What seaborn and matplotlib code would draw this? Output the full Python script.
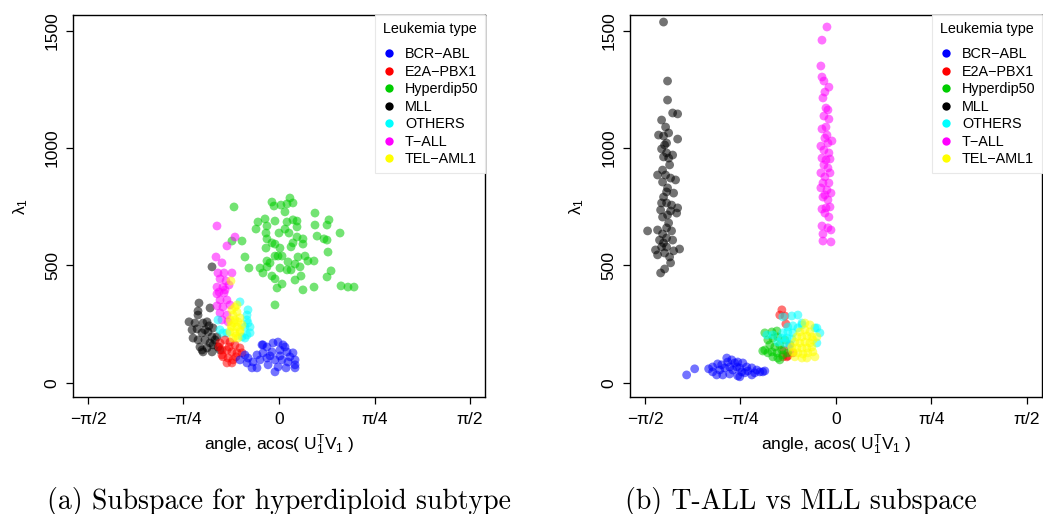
import numpy as np
import pandas as pd
import seaborn as sns
import matplotlib
matplotlib.use("Agg")
import matplotlib.pyplot as plt
from matplotlib.lines import Line2D

types = ["BCR-ABL", "E2A-PBX1", "Hyperdip50", "MLL", "OTHERS", "T-ALL", "TEL-AML1"]
type_labels = ["BCR\u2212ABL", "E2A\u2212PBX1", "Hyperdip50", "MLL", "OTHERS", "T\u2212ALL", "TEL\u2212AML1"]
type_colors = ["#0000FF", "#FF0000", "#00CD00", "#000000", "#00FFFF", "#FF00FF", "#FFFF00"]

angle_ticks = [-np.pi / 2, -np.pi / 4, 0, np.pi / 4, np.pi / 2]
angle_tick_labels = ["\u2212\u03c0/2", "\u2212\u03c0/4", "0", "\u03c0/4", "\u03c0/2"]
lambda_ticks = [0, 500, 1000, 1500]

# ---- (a) hyperdiploid subspace: angle (rad), lambda_1 ----
a_mll_x = [-0.551, -0.658, -0.666, -0.740, -0.691, -0.715, -0.674, -0.625, -0.592, -0.633, -0.584, -0.543,
           -0.707, -0.666, -0.609, -0.551, -0.650, -0.592, -0.543, -0.502, -0.625, -0.551, -0.485, -0.510,
           -0.567, -0.666, -0.567, -0.633, -0.609, -0.526, -0.576]
a_mll_y = [494, 340, 289, 260, 255, 226, 230, 255, 260, 213, 217, 234,
           191, 183, 183, 196, 153, 149, 162, 153, 132, 132, 140, 196,
           170, 306, 319, 140, 226, 183, 243]
a_tall_x = [-0.510, -0.362, -0.428, -0.518, -0.469, -0.387, -0.502, -0.452, -0.485, -0.436, -0.510, -0.461,
            -0.411, -0.510, -0.452, -0.485, -0.428, -0.510, -0.461, -0.403, -0.485, -0.428, -0.469, -0.493,
            -0.419, -0.444]
a_tall_y = [668, 621, 583, 536, 511, 468, 468, 468, 443, 434, 408, 408,
            417, 379, 383, 353, 353, 328, 323, 332, 298, 289, 268, 387,
            260, 396]
a_oth_x = [-0.321, -0.255, -0.263, -0.238, -0.263, -0.280, -0.304, -0.461, -0.485, -0.428, -0.255, -0.280,
           -0.502, -0.263, -0.238]
a_oth_y = [345, 311, 268, 238, 204, 238, 196, 213, 226, 213, 255, 191,
           268, 289, 213]
a_hyp_x = [-0.370, -0.058, 0.016, 0.066, 0.090, 0.115, -0.041, 0.049, 0.296, -0.173, -0.115, -0.033,
           0.066, 0.115, 0.148, 0.296, 0.395, 0.411, -0.189, -0.099, 0.049, 0.148, -0.107, 0.000,
           0.082, 0.313, 0.502, -0.099, 0.148, 0.197, 0.370, 0.395, -0.387, -0.304, -0.058, -0.033,
           0.115, 0.197, -0.107, 0.008, 0.099, 0.403, -0.280, -0.033, -0.008, 0.025, 0.156, 0.214,
           0.238, 0.288, -0.099, -0.074, 0.074, 0.132, 0.173, -0.247, -0.156, -0.099, 0.008, 0.066,
           0.099, -0.132, 0.428, -0.058, 0.181, -0.033, 0.395, 0.132, 0.025, -0.016, 0.197, 0.288,
           0.510, 0.567, 0.617, -0.033]
a_hyp_y = [749, 770, 757, 762, 787, 766, 753, 728, 723, 685, 698, 689,
           685, 694, 689, 672, 672, 694, 655, 668, 655, 664, 638, 638,
           638, 625, 638, 613, 621, 613, 613, 608, 604, 604, 596, 591,
           596, 591, 574, 574, 579, 557, 536, 540, 540, 540, 536, 540,
           519, 519, 519, 511, 515, 506, 494, 489, 489, 494, 489, 481,
           481, 468, 477, 455, 455, 443, 451, 438, 421, 404, 396, 408,
           413, 408, 408, 332]
a_e2a_x = [-0.485, -0.444, -0.403, -0.362, -0.321, -0.469, -0.428, -0.387, -0.345, -0.461, -0.419, -0.378,
           -0.428, -0.387, -0.469, -0.304, -0.493, -0.411, -0.354]
a_e2a_y = [170, 183, 174, 162, 149, 140, 140, 132, 128, 111, 106, 98,
           85, 85, 119, 128, 153, 153, 111]
a_bcr_x = [-0.140, -0.099, -0.049, -0.008, 0.033, 0.008, 0.066, 0.115, -0.058, -0.132, -0.181, -0.255,
           -0.214, -0.156, -0.099, -0.033, 0.025, 0.074, 0.132, -0.263, -0.181, -0.090, -0.008, 0.058,
           0.132, -0.222, -0.321, 0.049, 0.132, -0.033, -0.280, -0.132, -0.074, 0.008, 0.090]
a_bcr_y = [162, 153, 170, 174, 162, 140, 132, 128, 132, 128, 119, 106,
           89, 98, 106, 98, 98, 89, 98, 85, 64, 77, 68, 64,
           64, 64, 98, 153, 77, 47, 119, 162, 115, 115, 111]
a_tel_x = [-0.395, -0.387, -0.345, -0.403, -0.362, -0.321, -0.387, -0.345, -0.304, -0.403, -0.362, -0.321,
           -0.378, -0.337, -0.362, -0.345, -0.378, -0.321, -0.370, -0.337, -0.395, -0.354]
a_tel_y = [434, 311, 302, 268, 268, 277, 238, 238, 247, 217, 213, 217,
           191, 191, 323, 332, 289, 226, 255, 260, 243, 200]

# ---- (b) T-ALL vs MLL subspace ----
b_mll_x = [-1.418, -1.385, -1.385, -1.343, -1.302, -1.434, -1.401, -1.376, -1.459, -1.418, -1.302, -1.434,
           -1.393, -1.393, -1.418, -1.343, -1.376, -1.426, -1.467, -1.401, -1.360, -1.319, -1.426, -1.393,
           -1.335, -1.418, -1.434, -1.393, -1.352, -1.302, -1.442, -1.360, -1.310, -1.426, -1.376, -1.393,
           -1.549, -1.467, -1.352, -1.426, -1.451, -1.393, -1.343, -1.484, -1.434, -1.393, -1.335, -1.286,
           -1.467, -1.409, -1.368, -1.360, -1.409, -1.442, -1.385, -1.368, -1.409, -1.385, -1.418]
b_mll_y = [1536, 1285, 1204, 1149, 1145, 1119, 1089, 1064, 1055, 1051, 1038, 996,
           1021, 979, 962, 970, 957, 906, 885, 885, 872, 864, 855, 813,
           808, 791, 766, 766, 757, 745, 736, 732, 723, 706, 681, 660,
           647, 651, 647, 634, 608, 617, 608, 566, 579, 579, 562, 570,
           545, 553, 536, 511, 485, 468, 830, 928, 1013, 715, 596]
b_tall_x = [-0.074, -0.115, -0.124, -0.115, -0.099, -0.058, -0.091, -0.107, -0.082, -0.066, -0.099, -0.058,
            -0.082, -0.115, -0.091, -0.124, -0.066, -0.033, -0.099, -0.058, -0.115, -0.049, -0.099, -0.066,
            -0.124, -0.049, -0.091, -0.107, -0.058, -0.124, -0.074, -0.041, -0.107, -0.066, -0.115, -0.082,
            -0.049, -0.091, -0.058, -0.115, -0.066, -0.041, -0.107, -0.107, -0.041, -0.082, -0.091, -0.074]
b_tall_y = [1515, 1459, 1349, 1302, 1285, 1259, 1238, 1213, 1170, 1162, 1136, 1123,
            1089, 1081, 1042, 1008, 1021, 1030, 991, 979, 957, 953, 928, 915,
            894, 894, 877, 851, 851, 830, 821, 808, 791, 779, 740, 745,
            749, 723, 706, 668, 660, 651, 634, 604, 600, 949, 800, 1055]
b_bcr_x = [-1.228, -1.162, -1.047, -1.014, -0.973, -0.898, -0.857, -0.956, -0.915, -0.874, -0.832, -0.808,
           -0.766, -0.849, -0.791, -0.734, -0.692, -0.651, -0.602, -0.981, -0.931, -0.874, -0.808, -0.750,
           -0.692, -0.626, -0.940, -1.014, -0.816, -0.775, -0.725, -0.668, -0.585, -0.791, -0.890]
b_bcr_y = [34, 60, 60, 47, 81, 106, 98, 55, 64, 68, 85, 89,
           85, 55, 64, 68, 64, 55, 47, 34, 34, 38, 30, 43,
           34, 47, 77, 68, 68, 47, 51, 43, 51, 26, 89]
b_e2a_x = [-0.445, -0.462, -0.420, -0.412, -0.437, -0.396, -0.354, -0.404, -0.379, -0.429]
b_e2a_y = [311, 289, 285, 251, 111, 115, 128, 111, 162, 140]
b_hyp_x = [-0.585, -0.527, -0.486, -0.560, -0.519, -0.478, -0.585, -0.544, -0.503, -0.462, -0.527, -0.486,
           -0.445, -0.478, -0.437, -0.396, -0.560, -0.519, -0.462, -0.602, -0.420]
b_hyp_y = [213, 217, 221, 183, 191, 196, 140, 162, 153, 162, 132, 128,
           140, 106, 119, 128, 128, 111, 98, 136, 183]
b_oth_x = [-0.569, -0.437, -0.363, -0.313, -0.396, -0.354, -0.313, -0.280, -0.437, -0.396, -0.354, -0.445,
           -0.404, -0.363, -0.478, -0.420, -0.379, -0.157, -0.132, -0.157, -0.280, -0.173, -0.519]
b_oth_y = [204, 281, 285, 289, 238, 243, 234, 247, 213, 217, 213, 191,
           191, 187, 174, 170, 162, 234, 213, 170, 255, 234, 204]
b_tel_x = [-0.297, -0.255, -0.214, -0.255, -0.321, -0.280, -0.239, -0.198, -0.338, -0.297, -0.255, -0.214,
           -0.190, -0.321, -0.280, -0.239, -0.198, -0.354, -0.313, -0.272, -0.231, -0.190, -0.280, -0.239,
           -0.338, -0.173, -0.363, -0.157, -0.214]
b_tel_y = [217, 226, 217, 255, 196, 196, 200, 196, 174, 170, 174, 170,
           183, 149, 149, 149, 153, 132, 128, 123, 128, 132, 106, 106,
           111, 111, 153, 196, 247]


def make_frame(groups):
    parts = []
    for name, xs, ys in groups:
        parts.append(pd.DataFrame({"angle": xs, "lambda1": ys, "type": name}))
    return pd.concat(parts, ignore_index=True)


df_a = make_frame([("MLL", a_mll_x, a_mll_y), ("Hyperdip50", a_hyp_x, a_hyp_y),
                   ("T-ALL", a_tall_x, a_tall_y), ("OTHERS", a_oth_x, a_oth_y),
                   ("E2A-PBX1", a_e2a_x, a_e2a_y), ("BCR-ABL", a_bcr_x, a_bcr_y),
                   ("TEL-AML1", a_tel_x, a_tel_y)])
df_b = make_frame([("MLL", b_mll_x, b_mll_y), ("T-ALL", b_tall_x, b_tall_y),
                   ("BCR-ABL", b_bcr_x, b_bcr_y), ("E2A-PBX1", b_e2a_x, b_e2a_y),
                   ("Hyperdip50", b_hyp_x, b_hyp_y), ("OTHERS", b_oth_x, b_oth_y),
                   ("TEL-AML1", b_tel_x, b_tel_y)])

sns.set_theme(style="ticks")
plt.rcParams["font.family"] = ["Liberation Sans", "DejaVu Sans"]
plt.rcParams["mathtext.fontset"] = "custom"
plt.rcParams["mathtext.rm"] = "Liberation Sans"
plt.rcParams["mathtext.it"] = "Liberation Sans"
plt.rcParams["mathtext.bf"] = "Liberation Sans"
plt.rcParams["text.color"] = "black"
plt.rcParams["axes.labelcolor"] = "black"

palette = dict(zip(types, type_colors))
fig = plt.figure(figsize=(10.43, 5.14), dpi=100)
ax_a = fig.add_axes([0.0700, 0.2276, 0.3950, 0.7432])
ax_b = fig.add_axes([0.6040, 0.2276, 0.3950, 0.7432])

for ax, df in [(ax_a, df_a), (ax_b, df_b)]:
    sns.scatterplot(data=df, x="angle", y="lambda1", hue="type", palette=palette,
                    s=40, alpha=0.55, linewidth=0, legend=False, ax=ax)
    ax.set_xlim(-1.694, 1.694)
    ax.set_ylim(-60, 1566)
    ax.set_xticks(angle_ticks)
    ax.set_xticklabels(angle_tick_labels)
    ax.set_yticks(lambda_ticks)
    ax.set_yticklabels([str(v) for v in lambda_ticks], rotation=90, va="center")
    ax.tick_params(axis="both", length=5, width=0.9, color="black", labelsize=12.5, labelcolor="black")
    ax.tick_params(axis="x", pad=6)
    ax.tick_params(axis="y", pad=4.5)
    for sp in ax.spines.values():
        sp.set_visible(True)
        sp.set_color("black")
        sp.set_linewidth(1.0)
    ax.set_xlabel("angle, acos( U$_1^{\\mathrm{T}}$V$_1$ )", fontsize=12.5, labelpad=4)
    ax.set_ylabel("\u03bb$_1$", fontsize=12.5, labelpad=11)
    handles = [Line2D([], [], marker="o", linestyle="none", markersize=6,
                      markerfacecolor=c, markeredgewidth=0) for c in type_colors]
    leg = ax.legend(handles, type_labels, title="Leukemia type", loc="upper right",
                    bbox_to_anchor=(1.0, 1.0), borderaxespad=0, fontsize=10.4, title_fontsize=10.4,
                    frameon=True, fancybox=False, framealpha=1, edgecolor="#e8e8e8",
                    handlelength=1.0, handletextpad=0.6, labelspacing=0.24, borderpad=0.45)
    leg._legend_box.sep = 8.5  # extra gap under the legend title
    leg.get_frame().set_linewidth(0.8)
    leg.set_zorder(5)

fig.text(279 / 1043, 1 - 501 / 514, "(a) Subspace for hyperdiploid subtype", family="cmr10",
         fontsize=20, ha="center", va="center")
fig.text(801 / 1043, 1 - 501 / 514, "(b) T-ALL vs MLL subspace", family="cmr10",
         fontsize=20, ha="center", va="center")

fig.savefig("out.png", dpi=100)
